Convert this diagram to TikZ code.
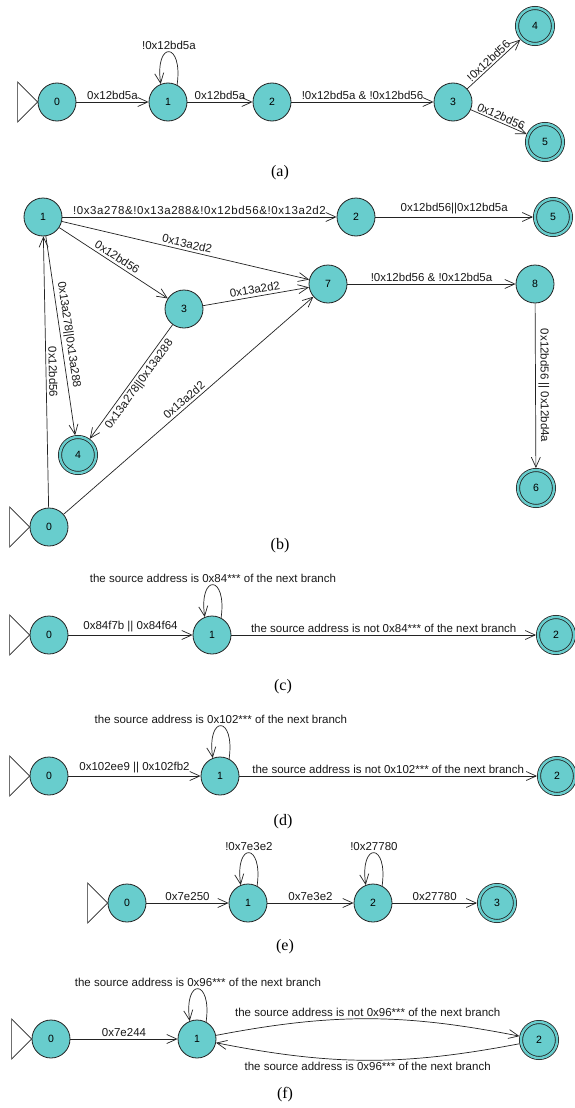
\documentclass[tikz,border=0pt]{standalone}
\usepackage{fontspec}
\setmainfont{Liberation Serif}
\newfontfamily\lblfont{Liberation Sans}
\usetikzlibrary{arrows.meta}
\definecolor{stcol}{RGB}{104,205,205}
\definecolor{edgecol}{RGB}{35,35,35}
\tikzset{
  state/.style={circle, draw=edgecol, fill=stcol, line width=0.8pt, minimum size=38pt, inner sep=0pt, font=\lblfont\fontsize{10.5}{12}\selectfont},
  final/.style={state, minimum size=36pt, double=stcol, double distance=2.4pt, outer sep=2pt},
  trans/.style={draw=edgecol, line width=0.7pt, -{Straight Barb[length=10pt,width=9pt]}},
  lbl/.style={font=\lblfont\fontsize{11.5}{13}\selectfont, inner sep=2.5pt, text=black!90},
  widelbl/.style={lbl, font=\lblfont\fontsize{11.5}{13}\selectfont\addfontfeature{LetterSpace=5}},
  captext/.style={font=\fontsize{16}{18}\selectfont},
  startmark/.style={draw=edgecol, line width=0.7pt},
}
\newcommand\startarrow[1]{\draw[startmark] (#1.west) -- ++(-20,20) -- ++(0,-40) -- cycle;}
\newcommand\selfloop[2]{\draw[trans] (#1.62) .. controls +(82:44) and +(98:44) .. node[lbl, above, inner sep=1.5pt, pos=0.5] {#2} (#1.112);}
\begin{document}
\begin{tikzpicture}[x=1pt,y=1pt]
\fill[white] (0,0) rectangle (575,-1108);
\useasboundingbox (0,0) rectangle (575,-1108);

% ---------------- (a)
\node[state] (a0) at (57,-102) {0};
\node[state] (a1) at (168,-102) {1};
\node[state] (a2) at (272,-102) {2};
\node[state] (a3) at (453,-102) {3};
\node[final] (a4) at (535,-26) {4};
\node[final] (a5) at (545,-142) {5};
\startarrow{a0}
\selfloop{a1}{!0x12bd5a}
\draw[trans] (a0) -- node[lbl, above] {0x12bd5a} (a1);
\draw[trans] (a1) -- node[lbl, above] {0x12bd5a} (a2);
\draw[trans] (a2) -- node[lbl, above] {!0x12bd5a \& !0x12bd56} (a3);
\draw[trans] (a3) -- node[lbl, sloped, above, inner sep=1.5pt, pos=0.48] {!0x12bd56} (a4);
\draw[trans] (a3) -- node[lbl, sloped, above, inner sep=1.5pt, pos=0.5] {0x12bd56} (a5);
\node[captext] (capa) at (280,-173) {(a)};

% ---------------- (b)
\node[state] (b1) at (43,-217) {1};
\node[state] (b2) at (356,-217) {2};
\node[final] (b5) at (553,-217) {5};
\node[state] (b7) at (328,-284) {7};
\node[state] (b8) at (535,-284) {8};
\node[state] (b3) at (184,-309) {3};
\node[final] (b4) at (78,-455) {4};
\node[state] (b0) at (49,-527) {0};
\node[final] (b6) at (536,-488) {6};
\startarrow{b0}
\draw[trans] (b1) -- node[widelbl, above] {!0x3a278\&!0x13a288\&!0x12bd56\&!0x13a2d2} (b2);
\draw[trans] (b2) -- node[lbl, above] {0x12bd56||0x12bd5a} (b5);
\draw[trans] (b1) -- node[lbl, sloped, above, pos=0.5] {0x13a2d2} (b7);
\draw[trans] (b1) -- node[lbl, sloped, above, pos=0.5] {0x12bd56} (b3);
\draw[trans] (b3) -- node[lbl, sloped, above, pos=0.5] {0x13a2d2} (b7);
\draw[trans] (b1) -- node[lbl, sloped, above, pos=0.5] {0x13a278||0x13a288} (b4);
\draw[trans] (b3) -- node[lbl, sloped, below, pos=0.48] {0x13a278||0x13a288} (b4);
\draw[trans] (b0) -- node[lbl, sloped, above, pos=0.5] {0x12bd56} (b1);
\draw[trans] (b0) -- node[lbl, sloped, above, pos=0.5] {0x13a2d2} (b7);
\draw[trans] (b7) -- node[lbl, above] {!0x12bd56 \& !0x12bd5a} (b8);
\draw[trans] (b8) -- node[lbl, sloped, above] {0x12bd56 || 0x12bd4a} (b6);
\node[captext] (capb) at (280,-546) {(b)};

% ---------------- (c)
\node[state] (c0) at (49,-635) {0};
\node[state] (c1) at (212,-635) {1};
\node[final] (c2) at (556,-635) {2};
\startarrow{c0}
\selfloop{c1}{the source address is 0x84*** of the next branch}
\draw[trans] (c0) -- node[lbl, above] {0x84f7b || 0x84f64} (c1);
\draw[trans] (c1) -- node[lbl, above] {the source address is not 0x84*** of the next branch} (c2);
\node[captext] (capc) at (283,-687) {(c)};

% ---------------- (d)
\node[state] (d0) at (49,-776) {0};
\node[state] (d1) at (220,-776) {1};
\node[final] (d2) at (557,-776) {2};
\startarrow{d0}
\selfloop{d1}{the source address is 0x102*** of the next branch}
\draw[trans] (d0) -- node[lbl, above] {0x102ee9 || 0x102fb2} (d1);
\draw[trans] (d1) -- node[lbl, above] {the source address is not 0x102*** of the next branch} (d2);
\node[captext] (capd) at (283,-822) {(d)};

% ---------------- (e)
\node[state] (e0) at (127,-903) {0};
\node[state] (e1) at (248,-903) {1};
\node[state] (e2) at (373,-903) {2};
\node[final] (e3) at (497,-903) {3};
\startarrow{e0}
\selfloop{e1}{!0x7e3e2}
\selfloop{e2}{!0x27780}
\draw[trans] (e0) -- node[lbl, above] {0x7e250} (e1);
\draw[trans] (e1) -- node[lbl, above] {0x7e3e2} (e2);
\draw[trans] (e2) -- node[lbl, above] {0x27780} (e3);
\node[captext] (cape) at (285,-947) {(e)};

% ---------------- (f)
\node[state] (f0) at (51,-1039) {0};
\node[state] (f1) at (197,-1039) {1};
\node[final] (f2) at (539,-1040) {2};
\startarrow{f0}
\selfloop{f1}{the source address is 0x96*** of the next branch}
\draw[trans] (f0) -- node[lbl, above] {0x7e244} (f1);
\draw[trans] (f1) to[bend left=11] node[lbl, above, inner sep=1.5pt] {the source address is not 0x96*** of the next branch} (f2);
\draw[trans] (f2) to[bend left=11] node[lbl, below, inner sep=1.5pt] {the source address is 0x96*** of the next branch} (f1);
\node[captext] (capf) at (285,-1095) {(f)};
\end{tikzpicture}
\end{document}
